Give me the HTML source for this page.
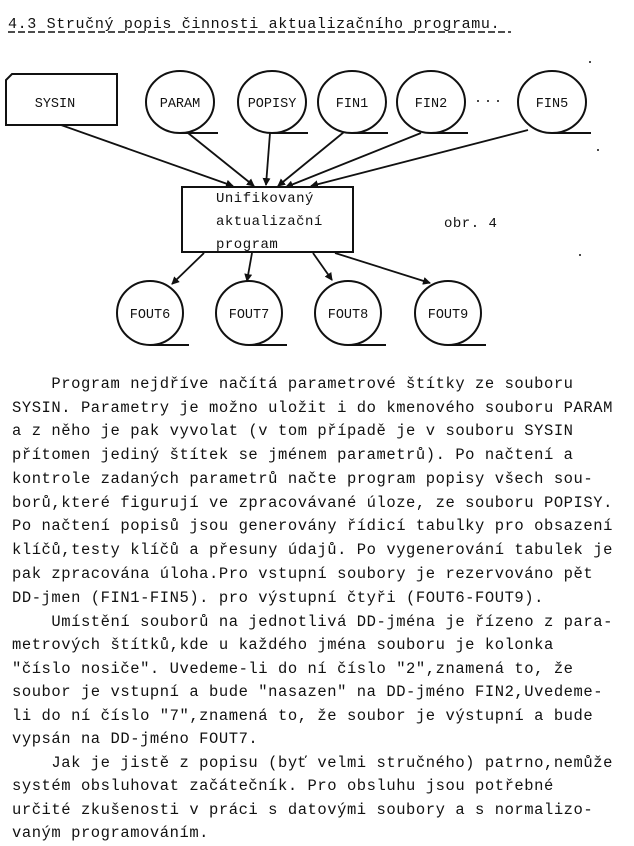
<!DOCTYPE html>
<html><head><meta charset="utf-8"><style>
html,body{margin:0;padding:0;background:#fff;}
body{width:634px;height:846px;position:relative;overflow:hidden;font-family:"Liberation Mono",monospace;color:#111;}
.l{position:absolute;left:12px;white-space:pre;font-size:15.5px;letter-spacing:0.55px;line-height:18px;}
</style></head><body>
<svg width="634" height="360" style="position:absolute;left:0;top:0" xmlns="http://www.w3.org/2000/svg">
<defs><marker id="a" markerWidth="8" markerHeight="8" refX="7" refY="4" orient="auto" markerUnits="userSpaceOnUse"><path d="M0,0 L8,4 L0,8 Z" fill="#111"/></marker></defs>
<g font-family="Liberation Mono, monospace" fill="#111">
<text x="8" y="28" font-size="15" letter-spacing="0.65">4.3 Stručný popis činnosti aktualizačního programu.</text>
<line x1="8" y1="32" x2="511" y2="32" stroke="#111" stroke-width="1.5" stroke-dasharray="7 3"/>
</g>
<g stroke="#111" stroke-width="2" fill="none">
<path d="M12,74 H117 V125 H6 V80 Z"/>
<ellipse cx="180" cy="102" rx="34" ry="31"/><line x1="180" y1="133" x2="218" y2="133"/>
<ellipse cx="272" cy="102" rx="34" ry="31"/><line x1="272" y1="133" x2="308" y2="133"/>
<ellipse cx="352" cy="102" rx="34" ry="31"/><line x1="352" y1="133" x2="388" y2="133"/>
<ellipse cx="431" cy="102" rx="34" ry="31"/><line x1="431" y1="133" x2="468" y2="133"/>
<ellipse cx="552" cy="102" rx="34" ry="31"/><line x1="552" y1="133" x2="591" y2="133"/>
<rect x="182" y="187" width="171" height="65"/>
<ellipse cx="150" cy="313" rx="33" ry="32"/><line x1="150" y1="345" x2="189" y2="345"/>
<ellipse cx="249" cy="313" rx="33" ry="32"/><line x1="249" y1="345" x2="287" y2="345"/>
<ellipse cx="348" cy="313" rx="33" ry="32"/><line x1="348" y1="345" x2="386" y2="345"/>
<ellipse cx="448" cy="313" rx="33" ry="32"/><line x1="448" y1="345" x2="486" y2="345"/>
</g>
<g stroke="#111" stroke-width="1.8" marker-end="url(#a)">
<line x1="61" y1="125" x2="233" y2="186"/>
<line x1="188" y1="133" x2="254" y2="186"/>
<line x1="270" y1="133" x2="266" y2="185"/>
<line x1="344" y1="132" x2="278" y2="186"/>
<line x1="421" y1="133" x2="286" y2="187"/>
<line x1="528" y1="130" x2="311" y2="186"/>
<line x1="204" y1="253" x2="172" y2="284"/>
<line x1="252" y1="253" x2="247" y2="281"/>
<line x1="313" y1="253" x2="332" y2="280"/>
<line x1="335" y1="253" x2="430" y2="283"/>
</g>
<g font-family="Liberation Mono, monospace" font-size="13.5" fill="#111" text-anchor="middle">
<text x="55" y="107">SYSIN</text>
<text x="180" y="107">PARAM</text>
<text x="272" y="107">POPISY</text>
<text x="352" y="107">FIN1</text>
<text x="431" y="107">FIN2</text>
<text x="552" y="107">FIN5</text>
<text x="150" y="318">FOUT6</text>
<text x="249" y="318">FOUT7</text>
<text x="348" y="318">FOUT8</text>
<text x="448" y="318">FOUT9</text>
</g>
<g font-family="Liberation Mono, monospace" font-size="14" fill="#111" letter-spacing="0.5">
<text x="216" y="202">Unifikovaný</text>
<text x="216" y="225">aktualizační</text>
<text x="216" y="248">program</text>
<text x="444" y="227">obr. 4</text>
</g>
<g fill="#111"><circle cx="478" cy="101" r="1"/><circle cx="488" cy="101" r="1"/><circle cx="498" cy="101" r="1"/><circle cx="590" cy="62" r="1"/><circle cx="598" cy="150" r="1"/><circle cx="580" cy="255" r="1"/></g>
</svg>
<div class="l" style="top:375px">    Program nejdříve načítá parametrové štítky ze souboru</div>
<div class="l" style="top:399px">SYSIN. Parametry je možno uložit i do kmenového souboru PARAM</div>
<div class="l" style="top:422px">a z něho je pak vyvolat (v tom případě je v souboru SYSIN</div>
<div class="l" style="top:446px">přítomen jediný štítek se jménem parametrů). Po načtení a</div>
<div class="l" style="top:470px">kontrole zadaných parametrů načte program popisy všech sou-</div>
<div class="l" style="top:494px">borů,které figurují ve zpracovávané úloze, ze souboru POPISY.</div>
<div class="l" style="top:517px">Po načtení popisů jsou generovány řídicí tabulky pro obsazení</div>
<div class="l" style="top:541px">klíčů,testy klíčů a přesuny údajů. Po vygenerování tabulek je</div>
<div class="l" style="top:565px">pak zpracována úloha.Pro vstupní soubory je rezervováno pět</div>
<div class="l" style="top:589px">DD-jmen (FIN1-FIN5). pro výstupní čtyři (FOUT6-FOUT9).</div>
<div class="l" style="top:613px">    Umístění souborů na jednotlivá DD-jména je řízeno z para-</div>
<div class="l" style="top:636px">metrových štítků,kde u každého jména souboru je kolonka</div>
<div class="l" style="top:660px">"číslo nosiče". Uvedeme-li do ní číslo "2",znamená to, že</div>
<div class="l" style="top:683px">soubor je vstupní a bude "nasazen" na DD-jméno FIN2,Uvedeme-</div>
<div class="l" style="top:707px">li do ní číslo "7",znamená to, že soubor je výstupní a bude</div>
<div class="l" style="top:730px">vypsán na DD-jméno FOUT7.</div>
<div class="l" style="top:754px">    Jak je jistě z popisu (byť velmi stručného) patrno,nemůže</div>
<div class="l" style="top:777px">systém obsluhovat začátečník. Pro obsluhu jsou potřebné</div>
<div class="l" style="top:801px">určité zkušenosti v práci s datovými soubory a s normalizo-</div>
<div class="l" style="top:824px">vaným programováním.</div>
</body></html>
